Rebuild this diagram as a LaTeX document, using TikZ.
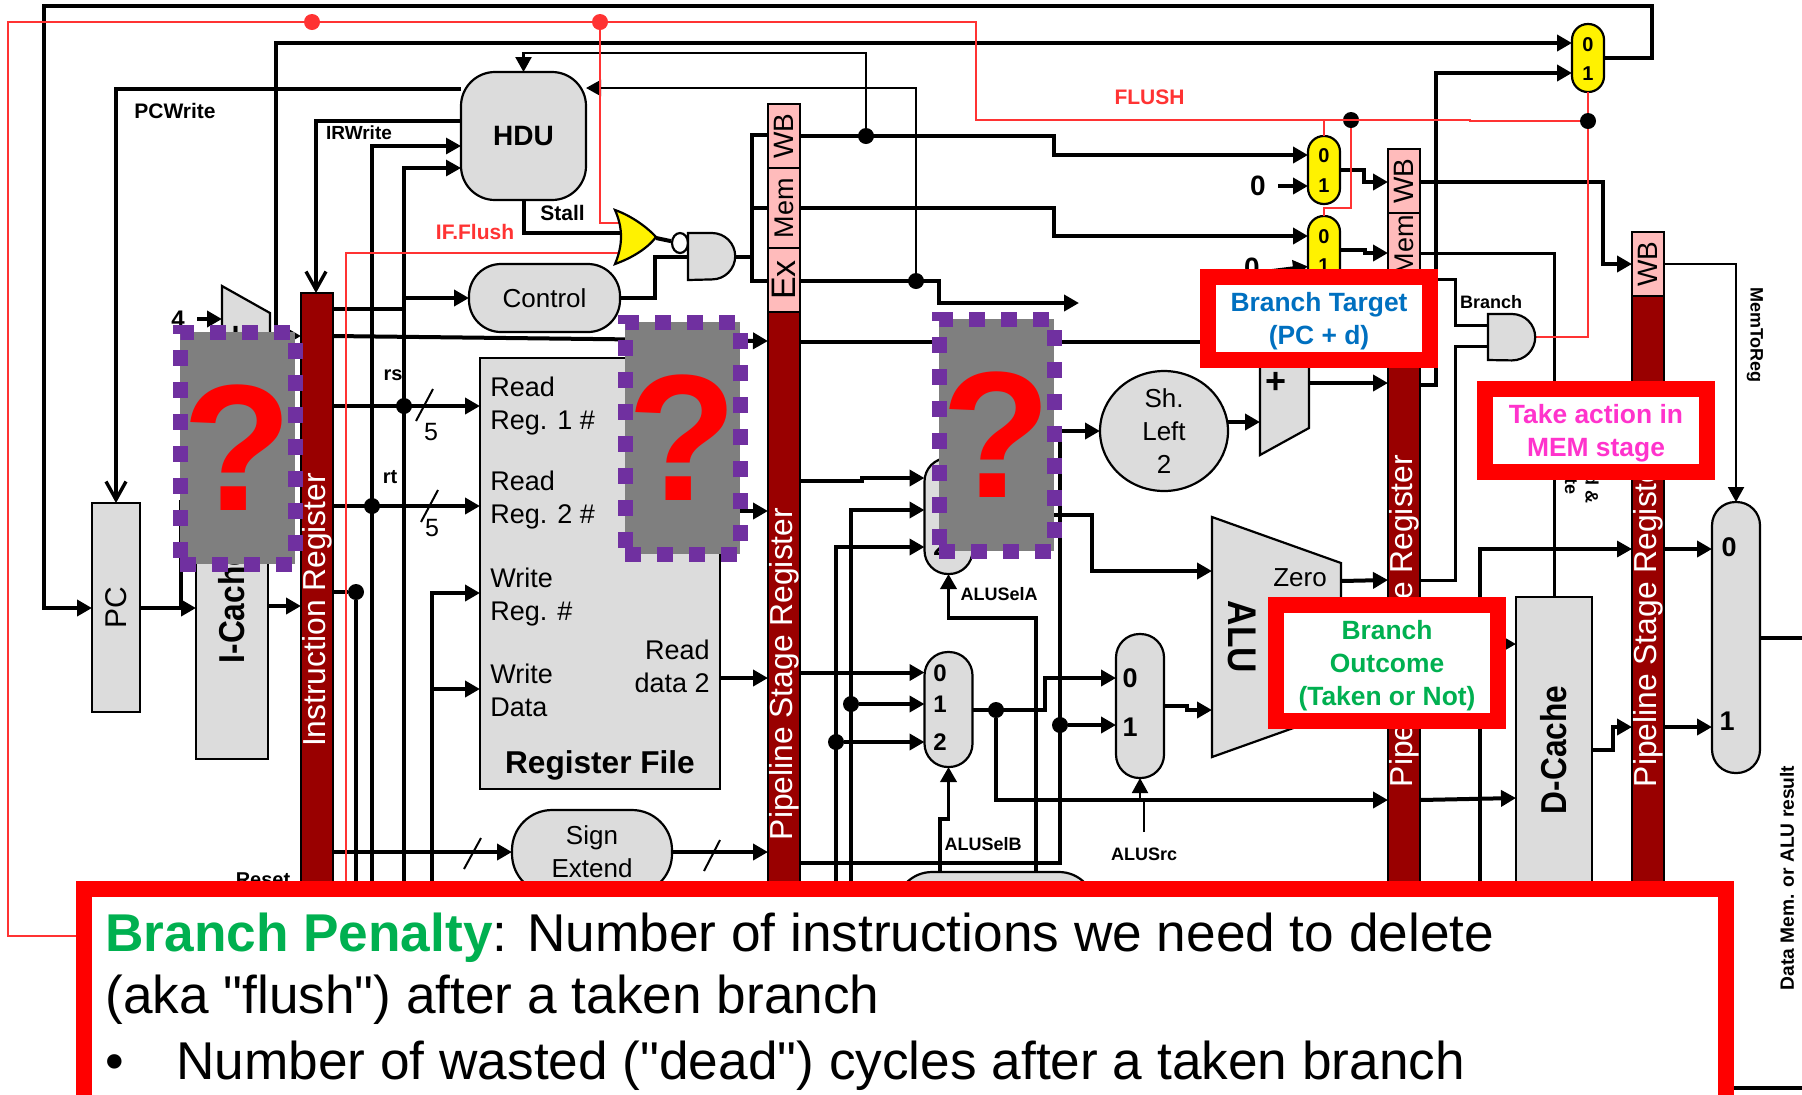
\documentclass[tikz,border=0pt]{standalone}
\usepackage{fontspec}
\setmainfont{Liberation Sans}
\setsansfont{Liberation Sans}
\newfontfamily\penaltyfont{Liberation Sans}
\usetikzlibrary{arrows.meta, shapes.geometric}
\definecolor{BlockGrey}{HTML}{DCDCDC}
\definecolor{StageRed}{HTML}{990000}
\definecolor{StagePink}{HTML}{FFBBBB}
\definecolor{FlushRed}{HTML}{FF3333}
\definecolor{MaskGrey}{HTML}{7F7F7F}
\definecolor{MaskPurple}{HTML}{7030A0}
\definecolor{TargetBlue}{HTML}{0070C0}
\definecolor{ActionPink}{HTML}{FF33CC}
\definecolor{OutcomeGreen}{HTML}{00B050}
\newcommand{\fsz}[1]{\fontsize{#1}{16.5}\selectfont}

\begin{document}
\begin{tikzpicture}[
    x=0.5pt, y=-0.5pt,
    font=\sffamily,
    block/.style={draw=black, line width=1.1pt, fill=BlockGrey, inner sep=0pt, outer sep=0pt,
        align=center, font={\fsz{13.5}}},
    hiddenbox/.style={inner sep=0pt, outer sep=0pt},
    mux/.style={block, rounded corners=11.7pt, minimum width=24pt},
    ymux/.style={block, fill=yellow, rounded corners=7.9pt, minimum width=16pt, minimum height=34pt},
    pbar/.style={draw=black, line width=1.1pt, fill=StageRed, inner sep=0pt, outer sep=0pt, minimum width=16pt},
    pstage/.style={draw=black, line width=1.1pt, fill=StagePink, inner sep=0pt, outer sep=0pt,
        minimum width=16pt, font={\fsz{13.5}}},
    barlab/.style={text=white, inner sep=0pt, font={\fsz{15.9}}},
    lab/.style={inner sep=0pt, font={\fsz{9}\bfseries}},
    muxlab/.style={inner sep=0pt, font={\fsz{12}\bfseries}},
    dot/.style={circle, fill=black, minimum size=8pt, inner sep=0pt},
    rdot/.style={dot, fill=FlushRed},
    wire/.style={line width=2pt, black},
    flow/.style={-{Triangle[length=7.5pt,width=8pt]}, line width=2pt, black},
    thinflow/.style={flow, line width=1.8pt},
    vflow/.style={-{Straight Barb[length=9pt,width=10pt]}, line width=1.7pt, black},
    rwire/.style={line width=1.3pt, FlushRed},
    slash/.style={line width=1pt, black},
    maskbox/.style={draw=MaskPurple, line width=7.5pt, dash pattern=on 8pt off 8pt, fill=MaskGrey,
        text=red, inner sep=0pt, outer sep=0pt, font={\fontsize{90}{90}\selectfont\bfseries},
        minimum width=57.5pt, minimum height=116pt},
    callout/.style={draw=red, line width=8pt, fill=white, align=center, inner sep=0pt, outer sep=0pt,
        minimum width=111pt, text depth=0pt, font={\fsz{13.2}\bfseries}},
    penalty/.style={anchor=base west, inner sep=0pt, font={\penaltyfont\fontsize{26.6}{32}\selectfont}},
]
\useasboundingbox (0,0) rectangle (1802,1094);
\clip (0,0) rectangle (1802,1094);

% fetch stage
\node[block, minimum width=24pt, minimum height=104.5pt] (pc) at (116,607.5) {\rotatebox{90}{\fsz{15}PC}};
\node[block, minimum width=36pt, minimum height=153pt] (icache) at (232,606)
    {\rotatebox{90}{\scalebox{0.88}[1]{\fsz{18}\bfseries I-Cache}}};
\node[hiddenbox, minimum width=24pt, minimum height=67pt] (adderA) at (246,353) {};
\draw[block] (adderA.north west) -- (adderA.east |- 0,313) -- (adderA.east |- 0,392) -- (adderA.south west) -- cycle;
\node[lab, font={\fsz{18}\bfseries}] (plusA) at (236,337) {+};
\node[lab] (fourlab) at (178,319) {\fsz{12}4};
\node[lab, font={\fsz{10}\bfseries}] (resetlab) at (263,880) {Reset};
\node[pbar, minimum height=353pt] (ifid) at (317,646) {};
\node[barlab] (ifidlab) at (317,610) {\rotatebox{90}{Instruction Register}};

% decode stage
\node[block, rounded corners=17pt, minimum width=62.5pt, minimum height=64pt, font={\fsz{14}\bfseries}] (hdu) at (523.5,136) {HDU};
\node[block, rounded corners=16pt, minimum width=75.5pt, minimum height=34pt, font={\fsz{13}}] (control) at (544.5,298) {Control};
\node[block, minimum width=120pt, minimum height=215.5pt] (regfile) at (600,573.5) {};
\node[inner sep=0pt, align=left, anchor=west, font={\fsz{13.5}}] (rdA) at (490,406) {Read\\Reg. 1 \#};
\node[inner sep=0pt, align=left, anchor=west, font={\fsz{13.5}}] (rdB) at (490,500) {Read\\Reg. 2 \#};
\node[inner sep=0pt, align=left, anchor=west, font={\fsz{13.5}}] (wrA) at (490,597) {Write\\Reg. \#};
\node[inner sep=0pt, align=left, anchor=west, font={\fsz{13.5}}] (wrB) at (490,690) {Write\\Data};
\node[inner sep=0pt, align=right, anchor=east, font={\fsz{13.5}}] (rdout) at (710,666) {Read\\data 2};
\node[inner sep=0pt, font={\fsz{15.8}\bfseries}] (rflab) at (600,765) {Register File};
\node[block, rounded corners=20pt, minimum width=80pt, minimum height=42pt, font={\fsz{13}}] (signext) at (592,852) {Sign\\Extend};
\node[hiddenbox, minimum width=20.5pt, minimum height=27pt] (norF) at (635.5,237) {};
\node[hiddenbox, minimum width=24pt, minimum height=23.5pt] (andF) at (712,256.5) {};
\node[draw=black, line width=1.1pt, ellipse, fill=white, minimum width=8pt, minimum height=10pt, inner sep=0pt] (bubble) at (680,243) {};

% first pipeline register
\node[pstage, minimum height=32pt, font={\fsz{14}}] (wbA) at (784,136) {\rotatebox{90}{WB}};
\node[pstage, minimum height=40pt] (memA) at (784,208) {\rotatebox{90}{Mem}};
\node[pstage, minimum height=32pt, font={\fsz{17}}] (exA) at (784,280) {\rotatebox{90}{Ex}};
\node[pbar, minimum height=344pt] (idex) at (784,656) {};
\node[barlab] (idexlab) at (784,674) {\rotatebox{90}{Pipeline Stage Register}};

% execute stage
\node[mux, minimum height=58pt] (muxA) at (948.5,516) {};
\node[mux, minimum height=57.5pt] (muxB) at (948.5,709.5) {};
\node[mux, minimum height=72pt] (muxC) at (1140,706) {};
\node[block, rounded corners=18pt, minimum width=99.5pt, minimum height=40pt] (fwd) at (995.5,912) {};
\node[block, ellipse, minimum width=64pt, minimum height=56pt, font={\fsz{13}}] (shl) at (1164,431) {Sh.\\Left\\2};
\node[hiddenbox, minimum width=64.5pt, minimum height=120pt] (alu) at (1276.5,637) {};
\draw[block] (alu.north west) -- (alu.east |- 0,563) -- (alu.east |- 0,711) -- (alu.south west) -- cycle;
\node[inner sep=0pt] (alulab) at (1242,637) {\rotatebox{-90}{\scalebox{0.88}[1]{\fsz{20}\bfseries ALU}}};
\node[inner sep=0pt, font={\fsz{13}}] (zerolab) at (1300,578) {Zero};
\node[hiddenbox, minimum width=24.5pt, minimum height=77.5pt] (adderB) at (1284.5,377.5) {};
\draw[block] (adderB.north west) -- (adderB.east |- 0,328) -- (adderB.east |- 0,428) -- (adderB.south west) -- cycle;
\node[lab, font={\fsz{18}\bfseries}] (plusB) at (1276,383) {+};

% flush muxes
\node[ymux] (muxY1) at (1324,170) {};
\node[ymux] (muxY2) at (1324,250) {};
\node[ymux] (muxY3) at (1588,58) {};

% second and third pipeline register
\node[pstage, minimum height=32pt, font={\fsz{14}}] (wbB) at (1404,181) {\rotatebox{90}{WB}};
\node[pstage, minimum height=32pt] (memB) at (1404,245) {\rotatebox{90}{Mem}};
\node[pbar, minimum height=361.5pt] (exmem) at (1404,638.5) {};
\node[barlab] (exmemlab) at (1404,621) {\rotatebox{90}{Pipeline Stage Register}};
\node[hiddenbox, minimum width=24pt, minimum height=23pt] (andB) at (1512,337) {};
\node[block, minimum width=38pt, minimum height=210pt] (dcache) at (1554,807) {};
\node[inner sep=0pt] (dcachelab) at (1554,750) {\rotatebox{90}{\scalebox{0.88}[1]{\fsz{18}\bfseries D-Cache}}};
\node[pstage, minimum height=32pt, font={\fsz{14}}] (wbC) at (1648,264) {\rotatebox{90}{WB}};
\node[pbar, minimum height=352pt] (memwb) at (1648,648) {};
\node[barlab] (memwblab) at (1648,621) {\rotatebox{90}{Pipeline Stage Register}};
\node[mux, minimum height=135.5pt] (muxD) at (1736,637.5) {};

% mux inputs
\foreach \n/\x/\y/\t in {b0/940/673/0, b1/940/704/1, b2/940/742/2, a2/940/547/2} \node[muxlab] (lab\n) at (\x,\y) {\t};
\foreach \n/\x/\y/\t in {c0/1130/678/0, c1/1130/727/1, d0/1729/547/0, d1/1727/721/1} \node[muxlab, font={\fsz{13.5}\bfseries}] (lab\n) at (\x,\y) {\t};
\foreach \n/\x/\y/\t in {ya/1324/156/0, yb/1324/186/1, yc/1324/237/0, yd/1324/266/1, ye/1588/45/0, yf/1588/74/1} \node[muxlab, font={\fsz{10}\bfseries}] (lab\n) at (\x,\y) {\t};
\node[lab, font={\fsz{14}\bfseries}] (zeroA) at (1258,186) {0};
\node[lab, font={\fsz{14}\bfseries}] (zeroB) at (1252,268) {0};

% named dots
\foreach \n/\x/\y in {dotrs/404/406, dotrt/372/506, dotimm/356/592, dotwb/866/136, dotex/916/281,
    dotfwdA/851/704, dotfwdB/836/742, dotalu/996/710, dotimmB/1060/725, dotmux/1351/120, dotflush/1588/121}
    \node[dot] (\n) at (\x,\y) {};
\foreach \n/\x in {dotredA/312, dotredB/600} \node[rdot] (\n) at (\x,22) {};
\coordinate (popupedge) at (76,936);
\coordinate (popupright) at (1734,1088);

% wires around the fetch and decode stages
\draw[flow] (muxY3.east) -- (1652,58) -- (1652,6) -- (44,6) -- (44,608) -- (pc.west |- 0,608);
\draw[flow] (276,340) -- (276,43) -- (muxY3.west |- 0,43);
\draw[flow] (adderA.east |- 0,336) -- (ifid.west |- 0,336);
\draw[flow] (pc.east |- 0,608) -- (icache.west |- 0,608);
\draw[wire] (181,608) -- (181,500);
\draw[flow] (icache.east |- 0,606) -- (ifid.west |- 0,606);
\draw[flow] (fourlab.east) ++(6pt,0pt) -- (adderA.west |- fourlab);
\draw[vflow] (hdu.west |- 0,89) -- (116,89) -- (pc.north);
\draw[vflow] (hdu.west |- 0,121) -- (316,121) -- (ifid.north -| 316,0);
\draw[flow, line width=1.6pt] (372,900) -- (372,146) -- (hdu.west |- 0,146);
\draw[flow, line width=1.6pt] (404,900) -- (404,168) -- (hdu.west |- 0,168);
\draw[wire] (hdu.south) -- (523.5,233) -- (625,233);
\draw[flow] (ifid.east |- 0,309) -- (404,309) -- (404,298) -- (control.west);
\draw[wire] (control.east) -- (655,298) -- (655,257) -- (andF.west |- 0,257);
\draw[wire] (656,238) -- (bubble);
\draw[wire] (andF.east) -- (752,256.5);
\draw[wire] (wbA.west |- 0,135) -- (752,135) -- (752,281) -- (exA.west |- 0,281);
\draw[wire] (752,208) -- (memA.west);
\draw[flow] (ifid.east |- 0,336) -- (idex.west |- 0,341);
\foreach \a/\b/\y in {ifid.east/regfile.west/406, ifid.east/regfile.west/506, regfile.east/idex.west/511, regfile.east/idex.west/678}
    \draw[flow] (\a |- 0,\y) -- (\b |- 0,\y);
\draw[wire] (ifid.east |- 0,592) -- (dotimm) -- (356,900);
\draw[flow] (432,900) -- (432,593) -- (regfile.west |- 0,593);
\draw[flow] (432,689) -- (regfile.west |- 0,689);
\draw[flow] (ifid.east |- 0,852) -- (signext.west);
\draw[flow] (signext.east) -- (idex.west |- 0,852);
\foreach \xa/\ya/\xb/\yb in {416/421/433/389, 421/522/438/490, 464/869/481/838, 704/871/720/840}
    \draw[slash] (\xa,\ya) -- (\xb,\yb);
\node[inner sep=0pt, font={\fsz{12.5}}] (widthA) at (431,432) {5};
\node[inner sep=0pt, font={\fsz{12.5}}] (widthB) at (432,528) {5};

% wires from the first pipeline register
\draw[flow, line width=1.2pt] (dotwb) -- (866,53) -- (523.5,53) -- (hdu.north);
\draw[flow, line width=1.2pt] (dotex) -- (916,88) -- (hdu.east |- 0,88);
\draw[flow] (wbA.east |- 0,136) -- (1054,136) -- (1054,155) -- (muxY1.west |- 0,155);
\draw[flow] (memA.east |- 0,208) -- (1054,208) -- (1054,236) -- (muxY2.west |- 0,236);
\draw[flow] (exA.east |- 0,281) -- (939,281) -- (939,303) -- (1079,303);
\draw[wire] (idex.east |- 0,342) -- (1260,342);
\draw[flow] (idex.east |- 0,481) -- (862,481) -- (862,478) -- (muxA.west |- 0,478);
\draw[flow] (851,900) -- (851,510) -- (muxA.west |- 0,510);
\draw[flow] (836,900) -- (836,547) -- (muxA.west |- 0,547);
\draw[flow] (idex.east |- 0,672.5) -- (muxB.west |- 0,672.5);
\draw[flow] (dotfwdA) -- (muxB.west |- dotfwdA);
\draw[flow] (dotfwdB) -- (muxB.west |- dotfwdB);
\draw[flow] (idex.east |- 0,863) -- (1060,863) -- (1060,431) -- (shl.west);
\draw[flow] (dotimmB) -- (muxC.west |- dotimmB);

% execute wires
\draw[flow] (muxA.east |- 0,515) -- (1092,515) -- (1092,571) -- (alu.west |- 0,571);
\draw[flow] (muxB.east) -- (1045,709.5) -- (1045,678) -- (muxC.west |- 0,678);
\draw[flow] (muxC.east) -- (1187,706) -- (1187,710) -- (alu.west |- 0,710);
\draw[flow] (dotalu) -- (996,800) -- (exmem.west |- 0,800);
\draw[flow] (shl.east |- 0,422) -- (adderB.west |- 0,422);
\draw[flow] (adderB.east |- 0,383) -- (exmem.west |- 0,383);
\draw[flow] (alu.east |- 0,581) -- (exmem.west |- 0,580);
\draw[thinflow] (1036,872) -- (1036,618) -- (948.5,618) -- (muxA.south);
\draw[thinflow] (940,872) -- (940,819) -- (948.5,819) -- (muxB.south);
\draw[flow, line width=1pt] (1144,832) -- (1144,800) -- (1140,800) -- (muxC.south);

% memory and write back wires
\draw[flow] (zeroA.east) ++(6pt,0pt) -- (muxY1.west |- zeroA);
\draw[flow] (zeroB.east) ++(6pt,-1.5pt) -- (muxY2.west |- 0,266.5);
\draw[flow] (muxY1.east) -- (1364,170) -- (1364,182) -- (wbB.west |- 0,182);
\draw[flow] (muxY2.east) -- (1365,250) -- (1365,253) -- (memB.west |- 0,253);
\draw[flow] (wbB.east |- 0,182) -- (1603,182) -- (1603,264) -- (wbC.west |- 0,264);
\draw[wire, line width=1.5pt] (memB.east |- 0,253) -- (1554,253) -- (dcache.north);
\draw[flow] (exmem.east |- 0,385) -- (1436,385) -- (1436,73) -- (muxY3.west |- 0,73);
\draw[wire, line width=1.5pt] (memB.east |- 0,279) -- (1455,279) -- (1455,325) -- (andB.west |- 0,325);
\draw[wire, line width=1.5pt] (exmem.east |- 0,580) -- (1455,580) -- (1455,346) -- (andB.west |- 0,346);
\draw[flow] (exmem.east |- 0,644) -- (dcache.west |- 0,644);
\draw[flow] (exmem.east |- 0,800) -- (dcache.west |- 0,798);
\draw[flow, line width=1.6pt] (1480,900) -- (1480,549) -- (memwb.west |- 0,549);
\draw[flow] (dcache.east |- 0,750) -- (1613,750) -- (1613,727) -- (memwb.west |- 0,727);
\draw[flow] (memwb.east |- 0,549) -- (muxD.west |- 0,549);
\draw[flow] (memwb.east |- 0,727) -- (muxD.west |- 0,727);
\draw[flow, line width=1pt] (wbC.east |- 0,264) -- (1736,264) -- (muxD.north);
\draw[wire] (muxD.east |- 0,638) -- (1802,638);
\draw[wire] (popupright) -- (1802,1088);

% flush lines
\draw[rwire] (popupedge) -- (8,936) -- (8,22) -- (976,22) -- (976,120) -- (1470,120) -- (1470,121) -- (dotflush);
\draw[rwire] (dotredB) -- (600,223) -- (625,223);
\draw[rwire] (625,253) -- (346,253) -- (346,900);
\draw[rwire] (1324,120) -- (muxY1.north);
\draw[rwire] (dotmux) -- (1351,208) -- (1324,208) -- (muxY2.north);
\draw[rwire] (andB.east) -- (1588,337) -- (dotflush) -- (muxY3.south);

% gates on top of their wires
\draw[line width=1.1pt, fill=yellow] (norF.north west) .. controls (632,216) and (648,228) .. (norF.east)
    .. controls (648,248) and (632,258) .. (norF.south west) .. controls (623,245) and (623,228) .. cycle;
\foreach \g in {andF, andB}
    \draw[line width=1.1pt, fill=BlockGrey] (\g.north) arc[start angle=90, end angle=-90, radius=11.6pt] -- (\g.south west) -- (\g.north west) -- cycle;

% small labels
\node[lab, font={\fsz{10.5}\bfseries}] (pcwlab) at (175,110.5) {PCWrite};
\node[lab, font={\fsz{9.5}\bfseries}] (irwlab) at (359,133) {IRWrite};
\node[lab, font={\fsz{10.5}\bfseries}] (stalllab) at (562.5,213) {Stall};
\node[lab, font={\fsz{10.5}\bfseries}, text=FlushRed] (ifflab) at (475,232) {IF.Flush};
\node[lab, font={\fsz{10.5}\bfseries}, text=FlushRed] (flushlab) at (1149.5,97.5) {FLUSH};
\node[lab, font={\fsz{10}\bfseries}] (rslab) at (393,375) {rs};
\node[lab, font={\fsz{10}\bfseries}] (rtlab) at (390,477) {rt};
\node[lab] (selAlab) at (999,594) {ALUSelA};
\node[lab] (selBlab) at (983,844) {ALUSelB};
\node[lab] (srclab) at (1144,854.5) {ALUSrc};
\node[lab] (brlab) at (1491,302) {Branch};
\node[lab] (m2rlab) at (1755,335) {\rotatebox{-90}{MemToReg}};
\node[lab] (rwA) at (1592,489) {\rotatebox{-90}{d \&}};
\node[lab] (rwB) at (1571,486) {\rotatebox{-90}{te}};
\node[lab, font={\fsz{9.6}\bfseries}] (datalab) at (1787,878) {\rotatebox{90}{Data Mem. or ALU result}};

% masked stages
\node[maskbox] (maskA) at (237.5,448) {?};
\node[maskbox] (maskB) at (682.5,438) {?};
\node[maskbox] (maskC) at (996.5,435) {?};

% callouts
\node[callout, minimum height=41.5pt, text=TargetBlue] (target) at (1319,318.5) {Branch Target\\(PC + d)};
\node[callout, minimum height=41.5pt, text=ActionPink] (action) at (1596,430.5) {Take action in\\MEM stage};
\node[callout, minimum height=58pt, text=OutcomeGreen] (outcome) at (1387,663) {Branch\\Outcome\\(Taken or Not)};
\node[draw=red, line width=8pt, fill=white, inner sep=0pt, outer sep=0pt, minimum width=821pt, minimum height=116pt] (popup) at (905,1004.5) {};
\node[penalty] (lineA) at (105,951) {\textcolor{OutcomeGreen}{\textbf{Branch Penalty}}: Number of instructions we need to delete};
\node[penalty] (lineB) at (105,1013) {(aka "flush") after a taken branch};
\node[penalty] (bullet) at (105,1079) {•};
\node[penalty] (lineC) at (176,1079) {Number of wasted ("dead") cycles after a taken branch};

\end{tikzpicture}
\end{document}
